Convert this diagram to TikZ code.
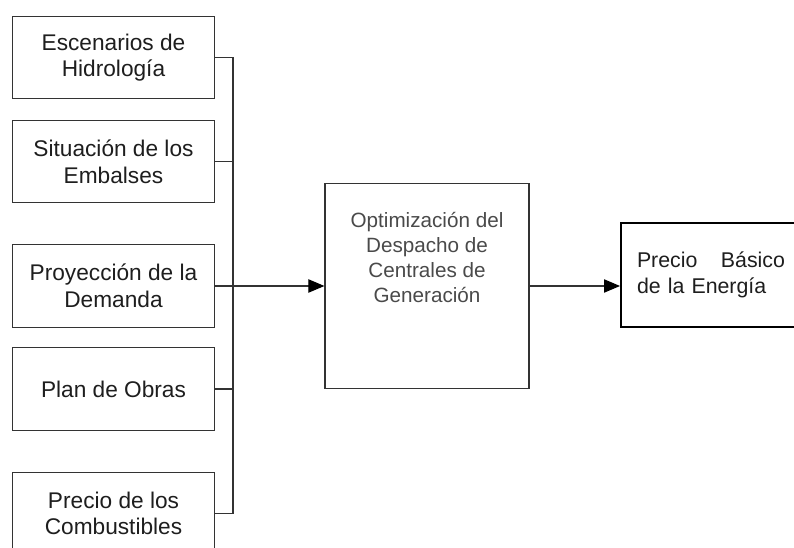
\documentclass[tikz,border=0pt]{standalone}
\usepackage{fontspec}
\setmainfont{Liberation Sans}
\usetikzlibrary{arrows.meta}
\definecolor{linegray}{HTML}{333333}
\definecolor{textgray}{HTML}{1E1E1E}
\definecolor{midgray}{HTML}{4A4A4A}

\begin{document}
\begin{tikzpicture}[
      x=0.75pt, y=-0.75pt,
      input box/.style ={draw=linegray, line width=0.9pt, fill=white, inner sep=0pt,
        minimum width=152pt, minimum height=62pt, align=center, text=textgray,
        font=\fontsize{17}{20}\selectfont},
      opt box/.style ={draw=linegray, line width=0.9pt, fill=white,
        minimum width=153pt, minimum height=154pt},
      opt text/.style ={align=center, text=midgray, inner sep=0pt,
        font=\fontsize{15.5}{18.75}\selectfont},
      price box/.style ={draw=black, line width=1.5pt, fill=white, inner sep=0pt,
        minimum width=135pt, minimum height=78pt, text width=111pt, align=left,
        text=textgray, font=\fontsize{16}{20}\selectfont},
      bus line/.style ={draw=linegray, line width=0.8pt},
      flow/.style ={bus line, -{Triangle[length=12pt, width=10pt, fill=black, color=black]}}]
    \clip (0,0) rectangle (794,548);
    \fill[white] (0,0) rectangle (794,548);
    \node[input box] (hidro) at (113.5,57.5) {Escenarios de\\Hidrología};
    \node[input box] (embalses) at (113.5,161.5) {Situación de los\\Embalses};
    \node[input box] (demanda) at (113.5,286) {Proyección de la\\Demanda};
    \node[input box] (obras) at (113.5,389) {Plan de Obras};
    \node[input box] (combust) at (113.5,513.5) {Precio de los\\Combustibles};
    \node[opt box] (despacho) at (427,286) {};
    \node[opt text] (despachotxt) at (427,257) {Optimización del\\Despacho de\\Centrales de\\Generación};
    \node[price box] (precio) at (711,275) {Precio\hfill Básico\\de la Energía};
    \coordinate (bus) at (233,286);
    \draw[bus line] (hidro.east) -- (hidro.east -| bus) |- (combust.east);
    \draw[bus line] (embalses.east) -- (embalses.east -| bus);
    \draw[bus line] (obras.east) -- (obras.east -| bus);
    \draw[flow] (demanda.east) -- (despacho.west);
    \draw[flow] (despacho.east) -- (despacho.east -| precio.west);
    \end{tikzpicture}
\end{document}
